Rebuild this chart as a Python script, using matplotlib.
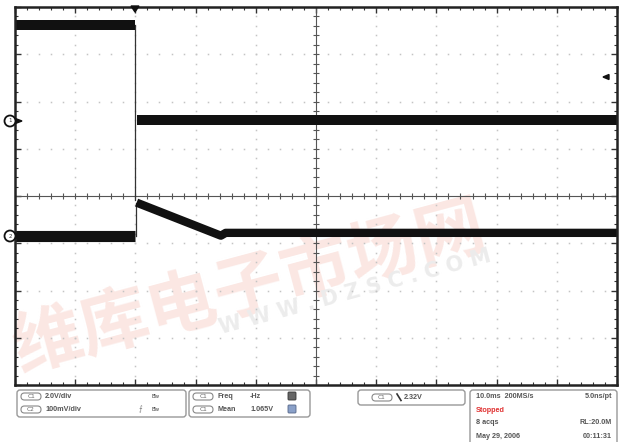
import matplotlib.pyplot as plt
from matplotlib.patches import FancyBboxPatch, Circle, Polygon
import numpy as np

# Scope settings ---
T_DIV = 10.0          # ms/div
CH1_VDIV = 2.0        # V/div
CH2_VDIV = 100.0      # mV/div
CH1_POS = 1.61        # ground marker, divisions from centre
CH2_POS = -0.85
T_LEFT, T_RIGHT = -20.0, 80.0

# Channel 1 (V)
ch1_pre_t = [-20.0, -0.1]
ch1_pre_v = [4.0, 4.0]
ch1_post_t = [0.3, 80.0]
ch1_post_v = [0.0, 0.0]
ch1_edge_t = [0.0, 0.0]
ch1_edge_v = [4.0, -3.4]

# Channel 2 (mV)
ch2_pre_t = [-20.0, -0.1]
ch2_pre_mv = [0.0, 0.0]
ch2_post_t = [0.2, 14.2, 15.0, 80.0]
ch2_post_mv = [71.0, 1.0, 7.0, 7.0]

# Readouts
readout_left = [("C1", "2.0V/div"), ("C2", "100mV/div")]
readout_meas = [("C1", "Freq", "-Hz"), ("C1", "Mean", "1.065V")]
trig_text = "2.32V"
status_rows = [("10.0ms  200MS/s", "5.0ns/pt"), ("Stopped", ""),
               ("8 acqs", "RL:20.0M"), ("May 29, 2006", "00:11:31")]

W, H = 623, 442
fig = plt.figure(figsize=(W / 100, H / 100), dpi=100)

# background layer (watermark)
bg = fig.add_axes([0, 0, 1, 1], zorder=0)
bg.set_xlim(0, W); bg.set_ylim(H, 0); bg.axis('off')
bg.text(250, 288, "维库电子市场网", fontsize=50, fontweight='bold', color='#fbe7e3',
        family=['Noto Sans CJK SC', 'DejaVu Sans'], rotation=15, ha='center', va='center')
bg.text(355, 292, "W W W . D Z S C . C O M", fontsize=15, fontweight='bold', color='#ececec',
        rotation=15, ha='center', va='center')

# graticule
ax = fig.add_axes([15 / W, (H - 385) / H, 602 / W, 378 / H], zorder=1)
ax.set_facecolor('none')
ax.set_xlim(T_LEFT, T_RIGHT)
ax.set_ylim(-4, 4)
ax.set_xticks(np.arange(T_LEFT, T_RIGHT + 1, T_DIV))
ax.set_xticks(np.arange(T_LEFT, T_RIGHT + 1, T_DIV / 5), minor=True)
ax.set_yticks(np.arange(-4, 5, 1))
ax.set_yticks(np.arange(-4, 4.01, 0.2), minor=True)
ax.tick_params(which='both', direction='in', top=True, right=True,
               labelbottom=False, labelleft=False, color='#333333')
ax.tick_params(which='major', length=4, width=1)
ax.tick_params(which='minor', length=2.5, width=0.8)
for s in ax.spines.values():
    s.set_linewidth(1.8)
    s.set_color('#222222')

xc = (T_LEFT + T_RIGHT) / 2
xmaj = np.arange(T_LEFT, T_RIGHT + 1, T_DIV)[1:-1]
ymaj = np.arange(-3, 4, 1)
xmin_ = np.arange(T_LEFT, T_RIGHT + 0.01, T_DIV / 5)
ymin_ = np.arange(-4, 4.01, 0.2)
for x in xmaj:
    if x != xc:
        ax.plot(np.full_like(ymin_, x), ymin_, ls='none', marker='s', ms=1.1,
                color='#c4c4c4', mew=0)
for y in ymaj:
    if y != 0:
        ax.plot(xmin_, np.full_like(xmin_, y), ls='none', marker='s', ms=1.1,
                color='#c4c4c4', mew=0)
ax.axvline(xc, color='#555555', lw=0.8)
ax.axhline(0, color='#555555', lw=0.8)
ax.plot(np.full_like(ymin_, xc), ymin_, ls='none', marker='_', ms=5, mew=0.8, color='#555555')
ax.plot(xmin_, np.zeros_like(xmin_), ls='none', marker='|', ms=5, mew=0.8, color='#555555')


def ch1(v):
    return CH1_POS + np.asarray(v) / CH1_VDIV


def ch2(mv):
    return CH2_POS + np.asarray(mv) / CH2_VDIV


ax.plot(ch1_edge_t, ch1(ch1_edge_v), color='#333333', lw=0.9)
ax.plot(ch1_pre_t, ch1(ch1_pre_v), color='#111111', lw=7.2, solid_capstyle='butt')
ax.plot(ch1_post_t, ch1(ch1_post_v), color='#111111', lw=7.2, solid_capstyle='butt')
ax.plot([0.1, 0.1], ch2([0, 71]), color='#333333', lw=0.9)
ax.plot(ch2_pre_t, ch2(ch2_pre_mv), color='#111111', lw=8.0, solid_capstyle='butt')
ax.plot(ch2_post_t, ch2(ch2_post_mv), color='#111111', lw=6.0,
        solid_capstyle='butt', solid_joinstyle='round')

# overlay in pixel coords
ov = fig.add_axes([0, 0, 1, 1], zorder=2)
ov.set_xlim(0, W); ov.set_ylim(H, 0); ov.axis('off')

# channel ground markers
for yy, lab in [(121, "1"), (236, "2")]:
    ov.add_patch(Polygon([[14, yy - 3], [22, yy], [14, yy + 3]], closed=True,
                         color='#111111'))
    ov.add_patch(Circle((10, yy), 5.5, facecolor='white', edgecolor='#111111', lw=1.3))
    ov.text(10, yy, lab, fontsize=4, ha='center', va='center', color='#333333')
# trigger markers
ov.add_patch(Polygon([[131, 6], [139, 6], [135, 12]], closed=True, color='#111111'))
ov.add_patch(Polygon([[603, 77], [609, 74.5], [609, 79.5]], closed=True, color='#111111'))

# readout panel
fnt = dict(fontsize=5.2, fontweight='bold', color='#555555', family='Liberation Sans',
           va='center')


def box(x0, y0, x1, y1):
    ov.add_patch(FancyBboxPatch((x0, y0), x1 - x0, y1 - y0,
                                boxstyle='round,pad=0,rounding_size=3',
                                facecolor='white', edgecolor='#999999', lw=1.0))


def chip(x, y, lab):
    ov.add_patch(FancyBboxPatch((x, y - 3.5), 20, 7, boxstyle='round,pad=0,rounding_size=3.5',
                                facecolor='white', edgecolor='#888888', lw=0.8))
    ov.text(x + 10, y, lab, fontsize=4.2, ha='center', va='center', color='#666666',
            family='DejaVu Sans')


box(17, 390, 186, 417)
box(189, 390, 310, 417)
box(358, 390, 465, 405)
box(470, 390, 617, 450)

for i, (c, t) in enumerate(readout_left):
    y = 396.5 + i * 13
    chip(21, y, c)
    ov.text(45, y, t, **fnt)
    ov.text(156, y, "B\u0305w", fontsize=4, ha='center', va='center', color='#444444')
ov.text(140, 409.5, "\u2a0d", fontsize=5, ha='center', va='center', color='#777777')

for i, (c, name, val) in enumerate(readout_meas):
    y = 396.5 + i * 13
    chip(193, y, c)
    ov.text(218, y, name, **fnt)
    ov.text(250, y, val, **fnt)
ov.add_patch(FancyBboxPatch((288, 392), 8, 8, boxstyle='round,pad=0,rounding_size=1',
                            facecolor='#666666', edgecolor='#333333', lw=0.6))
ov.add_patch(FancyBboxPatch((288, 405), 8, 8, boxstyle='round,pad=0,rounding_size=1',
                            facecolor='#8aa0c8', edgecolor='#556688', lw=0.6))

chip(372, 397.5, "C1")
ov.plot([397, 401], [394, 400.5], color='#333333', lw=1.2)
ov.text(404, 397.5, trig_text, **fnt)

for i, (l, r) in enumerate(status_rows):
    y = 397 + i * 13
    col = '#e03030' if l == "Stopped" else '#555555'
    ov.text(476, y, l, **dict(fnt, color=col))
    if r:
        ov.text(612, y, r, ha='right', **{k: v for k, v in fnt.items()})

fig.savefig("out.png", dpi=100)
